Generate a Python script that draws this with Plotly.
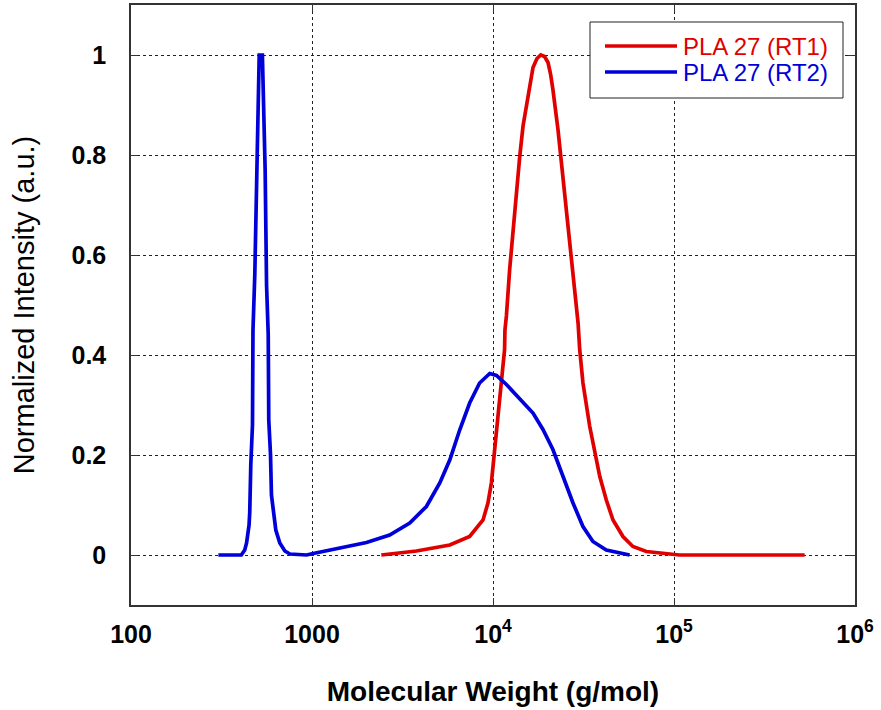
import plotly.graph_objects as go

# ---- data ----
rt1_mw = [2415, 3776, 5768, 7430, 8810, 9376, 9795, 10209, 10666, 11117, 11588, 11640,
          11858, 12359, 12912, 13459, 14060, 14655, 15596, 16106, 16634, 17498, 18365,
          19275, 20137, 20797, 21429, 22856, 23878, 25468, 26546, 28249, 29512, 30130,
          31405, 34198, 36475, 38905, 42267, 46026, 52240, 59293, 70307, 107000, 527000]
rt1_int = [0.0, 0.008, 0.02, 0.037, 0.07, 0.104, 0.144, 0.211, 0.278, 0.344, 0.411, 0.45,
           0.478, 0.571, 0.651, 0.731, 0.798, 0.858, 0.918, 0.95, 0.975, 0.993, 1.0,
           0.997, 0.985, 0.962, 0.931, 0.851, 0.785, 0.698, 0.618, 0.531, 0.464, 0.411,
           0.344, 0.258, 0.204, 0.157, 0.11, 0.07, 0.037, 0.017, 0.007, 0.0, 0.0]

rt2_mw = [304, 407, 425, 435, 449, 453, 459, 469, 472, 483, 498, 504, 511, 532, 537, 542,
          551, 561, 573, 577, 590, 597, 610, 631, 664, 708, 755, 933, 1016, 1306, 1622,
          2000, 2685, 3467, 4285, 5082, 5768, 6546, 7430, 8433, 9594, 10447, 11858, 14028,
          16634, 18880, 21429, 24380, 27669, 31405, 35645, 42267, 56885]
rt2_int = [0.0, 0.0, 0.01, 0.024, 0.06, 0.086, 0.18, 0.26, 0.45, 0.56, 0.80, 0.90, 1.0,
           1.0, 0.95, 0.87, 0.77, 0.54, 0.44, 0.27, 0.20, 0.12, 0.09, 0.05, 0.024, 0.008,
           0.002, 0.0, 0.003, 0.011, 0.017, 0.025, 0.04, 0.064, 0.097, 0.144, 0.19, 0.25,
           0.304, 0.344, 0.363, 0.359, 0.341, 0.314, 0.284, 0.251, 0.211, 0.157, 0.104,
           0.057, 0.027, 0.010, 0.0]

series_names = ["PLA 27 (RT1)", "PLA 27 (RT2)"]

x_tickvals = [100, 1000, 1e4, 1e5, 1e6]
x_ticktext = ["100", "1000", "10<sup>4</sup>", "10<sup>5</sup>", "10<sup>6</sup>"]
y_tickvals = [0, 0.2, 0.4, 0.6, 0.8, 1]
y_ticktext = ["0", "0.2", "0.4", "0.6", "0.8", "1"]

RED = "#e00000"
BLUE = "#0000d8"
FONT = "Liberation Sans, Arial, sans-serif"

W, H = 881, 710
ML, MR, MT, MB = 131, 26, 5, 105
PW, PH = W - ML - MR, H - MT - MB


def px_x(x):  # pixel -> paper
    return (x - ML) / PW


def px_y(y):
    return (H - MB - y) / PH


fig = go.Figure()
fig.add_trace(go.Scatter(x=rt1_mw, y=rt1_int, mode="lines",
                         line=dict(color=RED, width=3.7), name=series_names[0]))
fig.add_trace(go.Scatter(x=rt2_mw, y=rt2_int, mode="lines",
                         line=dict(color=BLUE, width=3.7), name=series_names[1]))

axis_common = dict(
    showline=True, linecolor="#333333", linewidth=1.5, mirror="ticks",
    ticks="inside", ticklen=7, tickcolor="#333333", tickwidth=1,
    showgrid=True, gridcolor="#222222", griddash="dot", gridwidth=1,
    zeroline=False, automargin=False,
    tickfont=dict(family=FONT, size=25, color="black", weight="bold"),
)

fig.update_xaxes(type="log", range=[2, 6], tickvals=x_tickvals, ticktext=x_ticktext,
                 ticklabelstandoff=6,
                 title=dict(text="Molecular Weight (g/mol)", standoff=35,
                            font=dict(family=FONT, size=28, color="black", weight="bold")),
                 **axis_common)
fig.update_yaxes(range=[-0.1, 1.1], tickvals=y_tickvals, ticktext=y_ticktext,
                 ticklabelstandoff=18,
                 title=dict(text="Normalized Intensity (a.u.)", standoff=28,
                            font=dict(family=FONT, size=29, color="black")),
                 **axis_common)

# manual legend (box, line samples, coloured labels)
box = dict(x0=590, x1=843, y0=22, y1=98)
rows = [(46, RED, series_names[0]), (72, BLUE, series_names[1])]
shapes = [dict(type="rect", xref="paper", yref="paper",
               x0=px_x(box["x0"]), x1=px_x(box["x1"]),
               y0=px_y(box["y1"]), y1=px_y(box["y0"]),
               line=dict(color="#222222", width=1), fillcolor="white", layer="above")]
annotations = []
for ry, col, label in rows:
    shapes.append(dict(type="line", xref="paper", yref="paper",
                       x0=px_x(605), x1=px_x(677), y0=px_y(ry), y1=px_y(ry),
                       line=dict(color=col, width=3.7), layer="above"))
    annotations.append(dict(xref="paper", yref="paper", x=px_x(681), y=px_y(ry),
                            xanchor="left", yanchor="middle", showarrow=False,
                            text=label, font=dict(family=FONT, size=24, color=col)))

fig.update_layout(
    width=W, height=H,
    margin=dict(l=ML, r=MR, t=MT, b=MB),
    paper_bgcolor="white", plot_bgcolor="white",
    showlegend=False,
    shapes=shapes, annotations=annotations,
)

fig.write_html("out.html", config={"displayModeBar": False},
               post_script="document.body.style.margin='0';document.body.style.overflow='hidden';")
